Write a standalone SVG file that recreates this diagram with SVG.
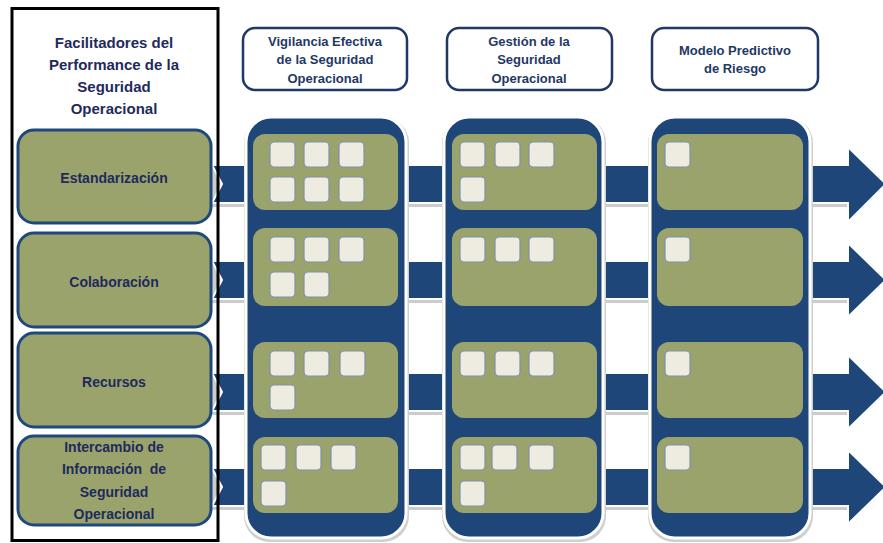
<svg xmlns="http://www.w3.org/2000/svg" width="883" height="543" viewBox="0 0 883 543">
<style>
.hdr{fill:#fff;stroke:#1f3864;stroke-width:2.5}
.ht{font-family:"Liberation Sans",Arial,sans-serif;font-weight:bold;font-size:13px;fill:#1f3864;text-anchor:middle}
.lt{font-family:"Liberation Sans",Arial,sans-serif;font-weight:bold;font-size:14px;fill:#1f2a5c;text-anchor:middle}
.ft{font-family:"Liberation Sans",Arial,sans-serif;font-weight:bold;font-size:15px;fill:#1f2a5c;text-anchor:middle}
.lbox{fill:#9ba36c;stroke:#1f497d;stroke-width:3}
.col{fill:#1f4678;stroke:#fff;stroke-width:3}
.colsh{fill:#cfcfcf}
.inner{fill:#9ba36c}
.sq{fill:#eeece1;stroke:#7f91ab;stroke-width:1.2}
.bar{fill:#1f4678;stroke:#fff;stroke-width:2}
.barsh{fill:#cccccc}
</style>
<defs>
<rect id="s" width="25" height="25" rx="4" class="sq"/>
</defs>

<g id="connectors">
  <g id="arrow1">
    <rect class="barsh" x="212" y="168" width="636" height="39"/>
    <polygon class="bar" points="212,165 848,165 848,147 886,184 848,222 848,203 212,203 222,184"/>
  </g>
  <g id="arrow2">
    <rect class="barsh" x="212" y="264" width="636" height="39"/>
    <polygon class="bar" points="212,261 848,261 848,243 886,280 848,317 848,299 212,299 222,280"/>
  </g>
  <g id="arrow3">
    <rect class="barsh" x="212" y="376" width="636" height="39"/>
    <polygon class="bar" points="212,373 848,373 848,355 886,392 848,429 848,411 212,411 222,392"/>
  </g>
  <g id="arrow4">
    <rect class="barsh" x="212" y="471" width="636" height="39"/>
    <polygon class="bar" points="212,468 848,468 848,450 886,487 848,524 848,506 212,506 222,487"/>
  </g>
</g>

<g id="col1">
  <rect class="colsh" x="244" y="117" width="165" height="425" rx="26"/>
  <rect class="col" x="246" y="117" width="160" height="421" rx="25"/>
  <rect class="inner" x="253" y="134" width="145" height="76" rx="12"/>
  <rect class="inner" x="253" y="228" width="145" height="78" rx="12"/>
  <rect class="inner" x="253" y="342" width="145" height="76" rx="12"/>
  <rect class="inner" x="253" y="437" width="145" height="76" rx="12"/>
  <use href="#s" x="270" y="142"/><use href="#s" x="304" y="142"/><use href="#s" x="339" y="142"/>
  <use href="#s" x="270" y="177"/><use href="#s" x="304" y="177"/><use href="#s" x="339" y="177"/>
  <use href="#s" x="270" y="237"/><use href="#s" x="304" y="237"/><use href="#s" x="339" y="237"/>
  <use href="#s" x="270" y="272"/><use href="#s" x="304" y="272"/>
  <use href="#s" x="270" y="351"/><use href="#s" x="304" y="351"/><use href="#s" x="340" y="351"/>
  <use href="#s" x="270" y="385"/>
  <use href="#s" x="261" y="445"/><use href="#s" x="296" y="445"/><use href="#s" x="331" y="445"/>
  <use href="#s" x="261" y="481"/>
</g>

<g id="col2">
  <rect class="colsh" x="442" y="117" width="164" height="425" rx="26"/>
  <rect class="col" x="444" y="117" width="159" height="421" rx="25"/>
  <rect class="inner" x="452" y="134" width="145" height="76" rx="12"/>
  <rect class="inner" x="452" y="228" width="145" height="78" rx="12"/>
  <rect class="inner" x="452" y="342" width="145" height="76" rx="12"/>
  <rect class="inner" x="452" y="437" width="145" height="76" rx="12"/>
  <use href="#s" x="460" y="142"/><use href="#s" x="495" y="142"/><use href="#s" x="529" y="142"/>
  <use href="#s" x="460" y="177"/>
  <use href="#s" x="460" y="237"/><use href="#s" x="495" y="237"/><use href="#s" x="529" y="237"/>
  <use href="#s" x="460" y="351"/><use href="#s" x="495" y="351"/><use href="#s" x="529" y="351"/>
  <use href="#s" x="460" y="445"/><use href="#s" x="492" y="445"/><use href="#s" x="529" y="445"/>
  <use href="#s" x="460" y="481"/>
</g>

<g id="col3">
  <rect class="colsh" x="648" y="117" width="165" height="425" rx="26"/>
  <rect class="col" x="650" y="117" width="160" height="421" rx="25"/>
  <rect class="inner" x="657" y="134" width="146" height="76" rx="12"/>
  <rect class="inner" x="657" y="228" width="146" height="78" rx="12"/>
  <rect class="inner" x="657" y="342" width="146" height="76" rx="12"/>
  <rect class="inner" x="657" y="437" width="146" height="76" rx="12"/>
  <use href="#s" x="665" y="142"/>
  <use href="#s" x="665" y="237"/>
  <use href="#s" x="665" y="351"/>
  <use href="#s" x="665" y="445"/>
</g>

<g id="hdr1">
  <rect class="hdr" x="243" y="28" width="164" height="62" rx="12"/>
  <text class="ht" x="325" y="46">Vigilancia Efectiva</text>
  <text class="ht" x="325" y="64">de la Seguridad</text>
  <text class="ht" x="325" y="83">Operacional</text>
</g>
<g id="hdr2">
  <rect class="hdr" x="447" y="28" width="165" height="62" rx="12"/>
  <text class="ht" x="529" y="46">Gestión de la</text>
  <text class="ht" x="529" y="64">Seguridad</text>
  <text class="ht" x="529" y="83">Operacional</text>
</g>
<g id="hdr3">
  <rect class="hdr" x="652" y="28" width="166" height="62" rx="12"/>
  <text class="ht" x="735" y="55">Modelo Predictivo</text>
  <text class="ht" x="735" y="73">de Riesgo</text>
</g>

<g id="lbox1">
  <rect class="lbox" x="18" y="130" width="193" height="93" rx="16"/>
  <text class="lt" x="114" y="183">Estandarización</text>
</g>
<g id="lbox2">
  <rect class="lbox" x="18" y="233" width="193" height="94" rx="16"/>
  <text class="lt" x="114" y="287">Colaboración</text>
</g>
<g id="lbox3">
  <rect class="lbox" x="18" y="333" width="193" height="94" rx="16"/>
  <text class="lt" x="114" y="387">Recursos</text>
</g>
<g id="lbox4">
  <rect class="lbox" x="18" y="436" width="193" height="89" rx="16"/>
  <text class="lt" x="114" y="452">Intercambio de</text>
  <text class="lt" x="114" y="474">Información&#160; de</text>
  <text class="lt" x="114" y="497">Seguridad</text>
  <text class="lt" x="114" y="519">Operacional</text>
</g>

<g id="frame">
  <rect x="12" y="8.5" width="206" height="532" fill="none" stroke="#000" stroke-width="3"/>
  <text class="ft" x="114" y="48">Facilitadores del</text>
  <text class="ft" x="114" y="70">Performance de la</text>
  <text class="ft" x="114" y="92">Seguridad</text>
  <text class="ft" x="114" y="114">Operacional</text>
</g>
</svg>
